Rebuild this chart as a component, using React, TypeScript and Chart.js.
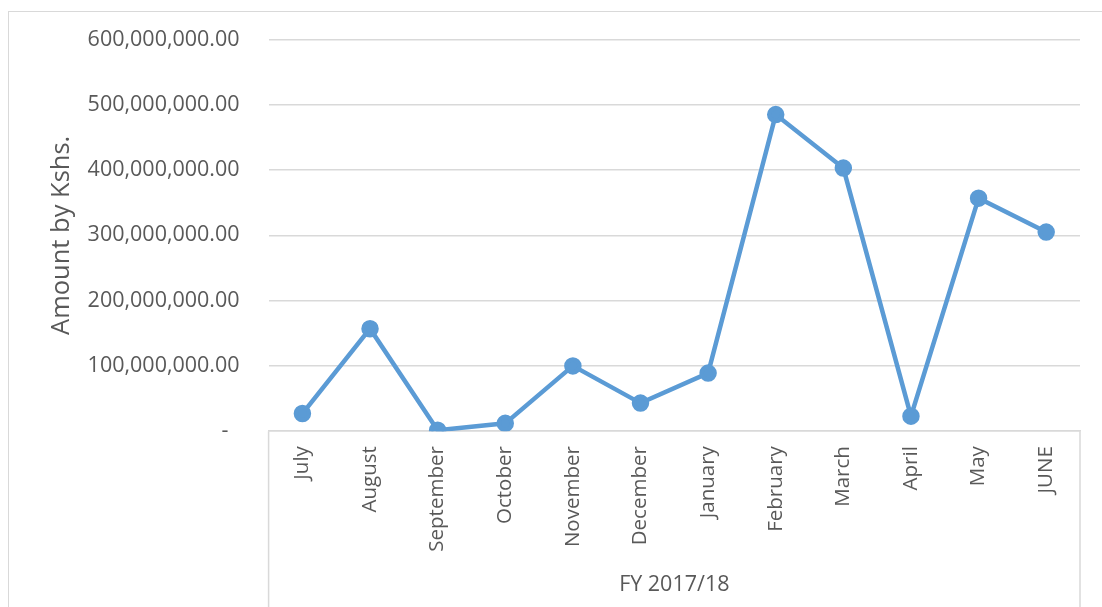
import { useEffect, useRef } from 'react';
import { Chart, registerables } from 'chart.js';

Chart.register(...registerables);

const MONTHS = [
  'July', 'August', 'September', 'October', 'November', 'December',
  'January', 'February', 'March', 'April', 'May', 'JUNE',
];

// amounts in Kshs
const AMOUNTS = [
  27000000, 157000000, 1500000, 12000000, 100000000, 43000000,
  89000000, 485000000, 403000000, 23000000, 357000000, 305000000,
];

const Y_MAX = 600000000;
const Y_STEP = 100000000;

const LINE = '#5b9bd5';
const TEXT = '#595959';
const GRID = '#d9d9d9';
const FONT = '"Open Sans", "Noto Sans", sans-serif';

// lines framing the category labels (multi-level axis look)
const axisFrame = {
  id: 'axisFrame',
  afterDraw(chart: Chart) {
    const { ctx, chartArea, height } = chart;
    ctx.save();
    ctx.strokeStyle = GRID;
    ctx.lineWidth = 1.5;
    ctx.beginPath();
    ctx.moveTo(chartArea.left, chartArea.bottom);
    ctx.lineTo(chartArea.left, height);
    ctx.moveTo(chartArea.right, chartArea.bottom);
    ctx.lineTo(chartArea.right, height);
    ctx.stroke();
    ctx.restore();
  },
};

function fmt(v: number) {
  if (v === 0) return '-  ';
  return v.toLocaleString('en-US', { minimumFractionDigits: 2, maximumFractionDigits: 2 });
}

function AmountChart() {
  const canvasRef = useRef<HTMLCanvasElement>(null);
  const chartRef = useRef<Chart | null>(null);

  useEffect(() => {
    if (!canvasRef.current) return;
    if (chartRef.current) chartRef.current.destroy();

    chartRef.current = new Chart(canvasRef.current, {
      type: 'line',
      data: {
        labels: MONTHS,
        datasets: [
          {
            data: AMOUNTS,
            borderColor: LINE,
            backgroundColor: LINE,
            borderWidth: 4.5,
            pointRadius: 6.5,
            pointBackgroundColor: LINE,
            pointBorderColor: LINE,
            tension: 0,
          },
        ],
      },
      options: {
        responsive: true,
        maintainAspectRatio: false,
        animation: false,
        layout: { padding: { top: 27.5, right: 22, bottom: 9.5, left: 37 } },
        plugins: {
          legend: { display: false },
          tooltip: { enabled: false },
        },
        scales: {
          x: {
            offset: true,
            grid: { display: false },
            border: { display: true, color: GRID, width: 1.5 },
            ticks: {
              color: TEXT,
              font: { family: FONT, size: 20.5 },
              minRotation: 90,
              maxRotation: 90,
              padding: 7,
            },
            title: {
              display: true,
              text: 'FY 2017/18',
              color: TEXT,
              font: { family: FONT, size: 21.5 },
              padding: { top: 13, bottom: 0 },
            },
          },
          y: {
            min: 0,
            max: Y_MAX,
            grid: {
              color: GRID,
              lineWidth: 1.5,
              drawTicks: true,
              tickLength: 25,
              tickColor: 'rgba(0,0,0,0)',
            },
            border: { display: false },
            ticks: {
              stepSize: Y_STEP,
              color: TEXT,
              font: { family: FONT, size: 21.5 },
              padding: 4,
              callback: (v) => fmt(Number(v)),
            },
            title: {
              display: true,
              text: 'Amount by Kshs.',
              color: TEXT,
              font: { family: FONT, size: 25.5 },
              padding: { top: 0, bottom: 7 },
            },
          },
        },
      },
      plugins: [axisFrame],
    });

    return () => {
      if (chartRef.current) {
        chartRef.current.destroy();
        chartRef.current = null;
      }
    };
  }, []);

  return (
    <div style={{ position: 'absolute', left: 0, top: 0, width: 1093, height: 595 }}>
      <canvas ref={canvasRef} />
    </div>
  );
}

export default function App() {
  return (
    <div
      style={{
        position: 'fixed',
        left: 0,
        top: 0,
        width: 1102,
        height: 607,
        overflow: 'hidden',
        background: '#fff',
      }}
    >
      <div
        style={{
          position: 'absolute',
          left: 8,
          top: 11,
          width: 1200,
          height: 700,
          border: '1.5px solid ' + GRID,
        }}
      >
        <AmountChart />
      </div>
    </div>
  );
}
